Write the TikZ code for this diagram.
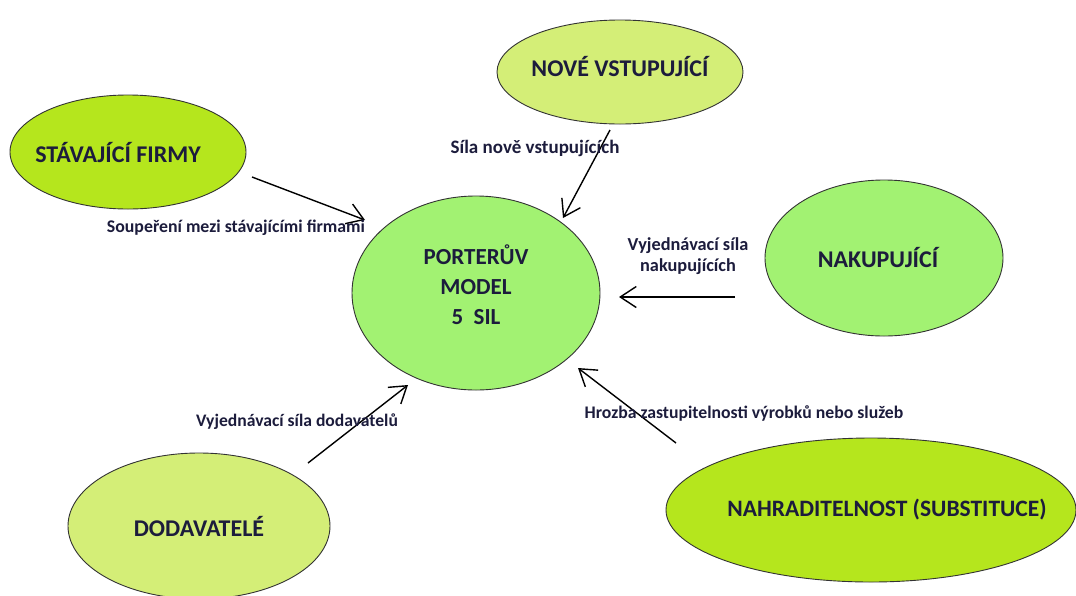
\documentclass[tikz,border=0pt]{standalone}
\usepackage{fontspec}
\usepackage{graphicx}
\setmainfont{Carlito}
\usetikzlibrary{shapes.geometric,arrows.meta}
\definecolor{brightg}{HTML}{B5E61D}
\definecolor{paleg}{HTML}{D4EE77}
\definecolor{lightg}{HTML}{A2F272}
\definecolor{txt}{HTML}{1C1C3C}
\newcommand{\fsz}[1]{\fontsize{#1}{1.25\dimexpr#1pt\relax}\selectfont\bfseries}
\newcommand{\zb}[1]{\makebox[0pt]{#1}}
\begin{document}
\begin{tikzpicture}[x=1pt,y=-1pt,
  oval/.style={ellipse, draw=black!80, line width=0.9pt, inner sep=0pt, outer sep=0pt, text=txt, align=center},
  force/.style={-{Straight Barb[length=16pt,width=21pt,line width=1.4pt]}, line width=1.4pt, black},
  lbl/.style={text=txt, align=center, inner sep=0pt}]
\useasboundingbox (0,0) rectangle (1076,595);
\fill[white] (0,0) rectangle (1076,595);
% ovals
\node[oval, fill=brightg, minimum width=236pt, minimum height=114pt, font=\fsz{24}] (stav) at (128,152) {\zb{\hspace*{-20pt}STÁVAJÍCÍ FIRMY}};
\node[oval, fill=paleg, minimum width=246pt, minimum height=104pt, font=\fsz{24}] (nove) at (620,72) {\zb{NOVÉ VSTUPUJÍCÍ}\\[-18pt]};
\node[oval, fill=lightg, minimum width=248pt, minimum height=194pt, font={\fontsize{23}{30}\selectfont\bfseries}] (porter) at (476,293) {\zb{PORTERŮV}\\\zb{MODEL}\\\zb{5\ \ SIL}\\[-14pt]};
\node[oval, fill=lightg, minimum width=238pt, minimum height=156pt, font=\fsz{24}] (nak) at (884,258) {\zb{\hspace*{-12pt}NAKUPUJÍCÍ}};
\node[oval, fill=paleg, minimum width=262pt, minimum height=146pt, font=\fsz{24}] (dod) at (199,526) {\zb{DODAVATELÉ}};
\node[oval, fill=brightg, minimum width=410pt, minimum height=144pt, font=\fsz{23.5}] (nahr) at (871,510) {\zb{\hspace*{32pt}NAHRADITELNOST (SUBSTITUCE)}};
% arrow ends
\coordinate (s1) at (252,177); \coordinate (e1) at (365,220);
\coordinate (s2) at (610,130); \coordinate (e2) at (563,218);
\coordinate (s3) at (735,297); \coordinate (e3) at (619,297);
\coordinate (s4) at (308,463); \coordinate (e4) at (408,385);
\coordinate (s5) at (676,443); \coordinate (e5) at (578,368);
\draw[force] (s1) -- (e1);
\draw[force] (s2) -- (e2);
\draw[force] (s3) -- (e3);
\draw[force] (s4) -- (e4);
\draw[force] (s5) -- (e5);
% labels
\node[lbl, font=\fsz{17.8}] (l1) at (236,228) {Soupeření mezi stávajícími firmami};
\node[lbl, font=\fsz{19}] (l2) at (535,148) {Síla nově vstupujících};
\node[lbl, font={\fontsize{18.3}{21}\selectfont\bfseries}] (l3) at (688,256) {Vyjednávací síla\\nakupujících};
\node[lbl, font=\fsz{17.6}] (l4) at (297,422) {Vyjednávací síla dodavatelů};
\node[lbl, font=\fsz{17.7}] (l5) at (744,413) {Hrozba zastupitelnosti výrobků nebo služeb};
\end{tikzpicture}
\end{document}
